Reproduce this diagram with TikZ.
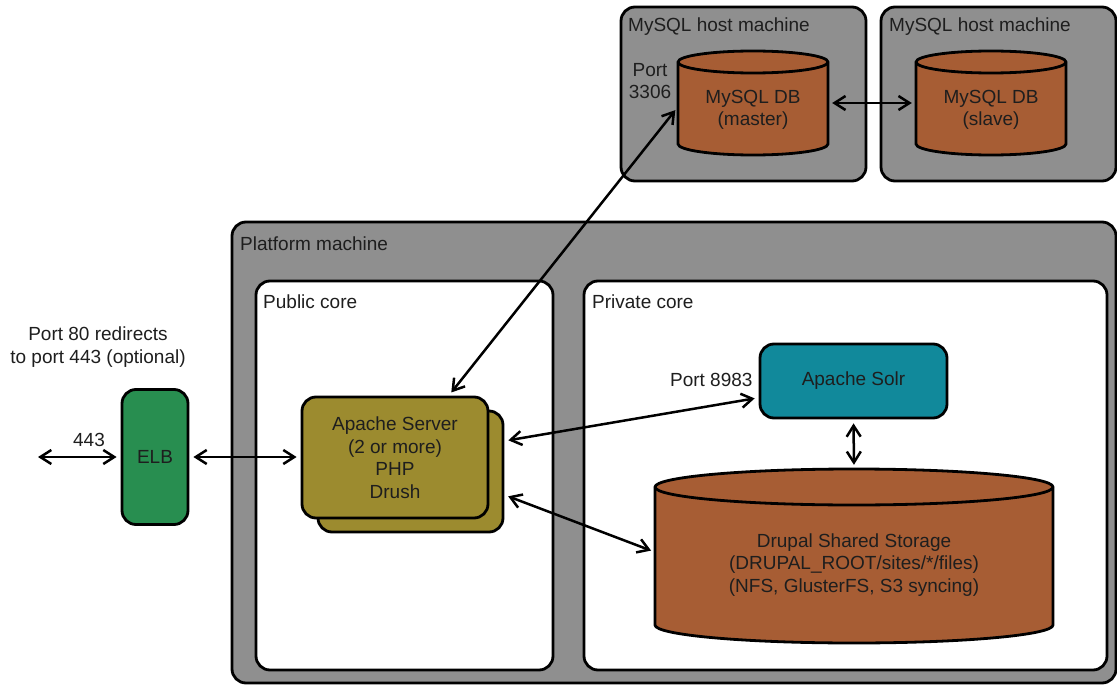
\documentclass[tikz,border=0pt]{standalone}
\usepackage{fontspec}
\setmainfont{Liberation Sans}
\usetikzlibrary{positioning,arrows.meta}
\definecolor{boxgray}{RGB}{143,143,143}
\definecolor{dbbrown}{RGB}{167,93,52}
\definecolor{srvolive}{RGB}{156,139,47}
\definecolor{elbgreen}{RGB}{40,142,80}
\definecolor{solrteal}{RGB}{17,137,155}
\definecolor{ink}{RGB}{30,30,30}

% cylinder: center x, center y, half width, half height, end radius
\newcommand\dbdrum[5]{%
  \draw[dbshape] ({#1-#3},{#2-#4+#5}) -- ({#1-#3},{#2+#4-#5})
    arc[start angle=180, end angle=360, x radius=#3pt, y radius=#5pt]
    -- ({#1+#3},{#2-#4+#5})
    arc[start angle=0, end angle=180, x radius=#3pt, y radius=#5pt] -- cycle;
  \draw[dbshape, fill=none] ({#1-#3},{#2-#4+#5})
    arc[start angle=180, end angle=360, x radius=#3pt, y radius=#5pt];
}

\begin{document}
\begin{tikzpicture}[x=1pt, y=-1pt,
    font=\fontsize{19}{22.5}\selectfont, text=ink,
    machine/.style={draw, line width=2.8pt, rounded corners=14pt, fill=boxgray},
    core/.style={draw, line width=2.8pt, rounded corners=14pt, fill=white},
    title/.style={anchor=west, inner sep=0pt},
    box/.style={draw, line width=2.8pt, rounded corners=14pt, align=center},
    dbshape/.style={draw, line width=2.8pt, fill=dbbrown},
    dbspot/.style={align=center, inner sep=0pt},
    link/.style={{Straight Barb[length=11pt,width=14pt]}-{Straight Barb[length=11pt,width=14pt]},
      line width=2.5pt, shorten <=4pt, shorten >=4pt}
    ]
\useasboundingbox (0,0) rectangle (1117,685);

% machines and cores
\draw[machine] (621,7) rectangle (866,181);
\draw[machine] (881,7) rectangle (1116,181);
\draw[machine] (232,222) rectangle (1116,683);
\draw[core] (256,281) rectangle (553,670);
\draw[core] (584,281) rectangle (1107,670);

\node[title] (host1) at (628,27) {MySQL host machine};
\node[title] (host2) at (889,27) {MySQL host machine};
\node[title] (platform) at (240,244) {Platform machine};
\node[title] (public) at (263,302) {Public core};
\node[title] (private) at (592,302) {Private core};

% databases
\dbdrum{753}{103}{75}{52}{11}
\dbdrum{991}{103}{75}{52}{11}
\dbdrum{854}{556}{199}{87}{18}
\node[dbspot, minimum width=150pt, minimum height=90pt] (master) at (753,110) {MySQL DB\\(master)};
\node[dbspot, minimum width=150pt, minimum height=90pt] (slave) at (991,110) {MySQL DB\\(slave)};
\node[dbspot, minimum width=398pt, minimum height=192pt] (storage) at (854,565)
  {Drupal Shared Storage\\(DRUPAL\_ROOT/sites/*/files)\\(NFS, GlusterFS, S3 syncing)};

% servers
\node[box, fill=srvolive, minimum width=185pt, minimum height=121pt] (apback) at (410.5,471.5) {};
\node[box, fill=srvolive, minimum width=186pt, minimum height=121pt] (apache) at (395,457.5)
  {Apache Server\\(2 or more)\\PHP\\Drush};
\node[box, fill=elbgreen, minimum width=66pt, minimum height=135pt] (elb) at (155,457) {ELB};
\node[box, fill=solrteal, minimum width=187pt, minimum height=74pt] (solr) at (853.5,381) {Apache Solr};

% port labels
\node[align=center] (redirect) at (98,347) {Port 80 redirects\\to port 443 (optional)};
\node (p443) at (89,440) {443};
\node[align=center] (p3306) at (650,81) {Port\\3306};
\node[anchor=east] (p8983) at (756,380) {Port 8983};

\coordinate (client) at (34,457);

\draw[link] (client) -- (elb.west);
\draw[link] (elb.east) -- (elb.east -| apache.west);
\draw[link] (apback.18) -- (solr.190);
\draw[link] (apback.-14) -- ([yshift=13pt]storage.west);
\draw[link] (solr.south) -- (storage.north);
\draw[link] ([yshift=7pt]master.east) -- ([yshift=7pt]slave.west);
\draw[link] (apache.49) -- ([yshift=3pt]master.west);
\end{tikzpicture}
\end{document}
